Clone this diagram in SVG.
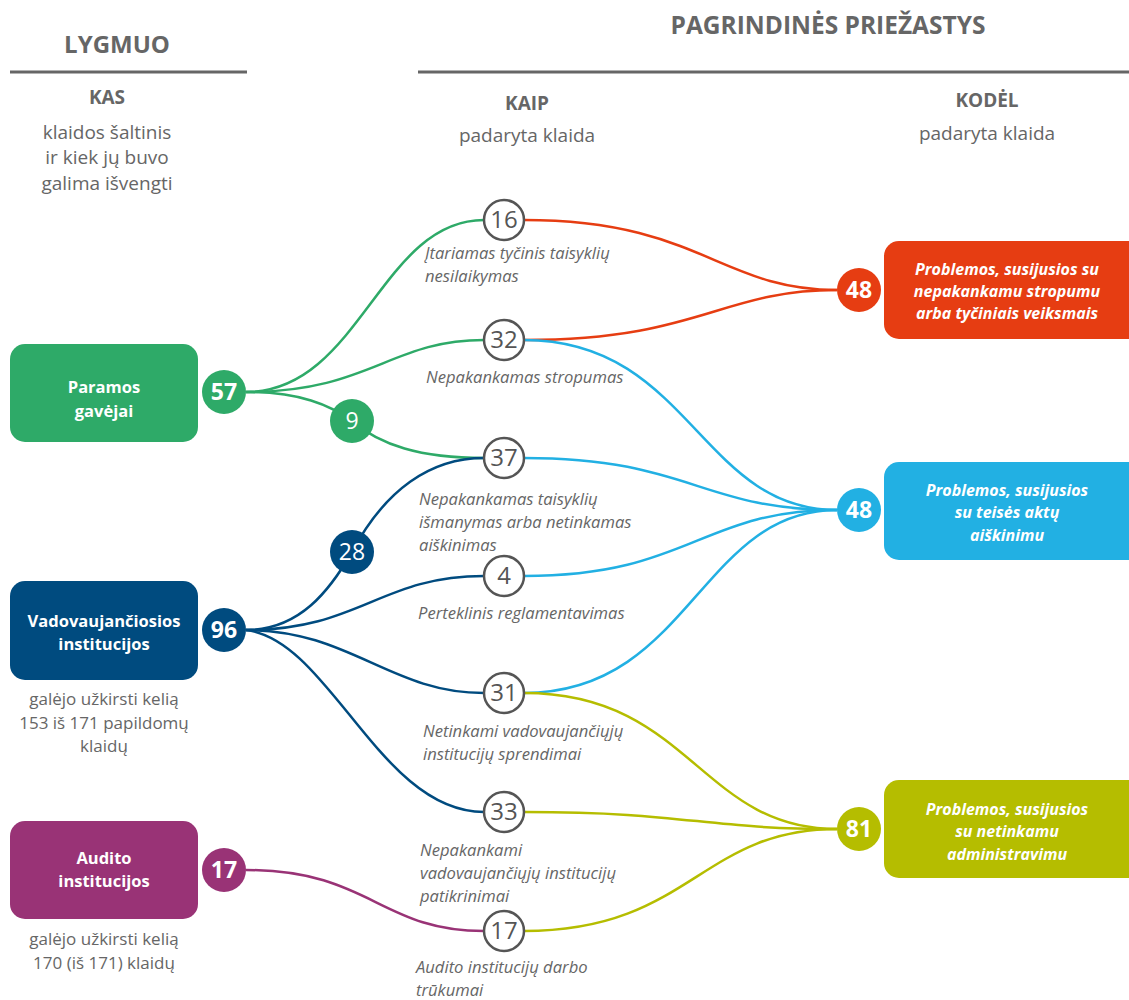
<svg xmlns="http://www.w3.org/2000/svg" width="1129" height="1000" viewBox="0 0 1129 1000">
<style>
text{font-family:"Open Sans","Noto Sans",sans-serif;}
.h{font-weight:bold;fill:#666;text-anchor:middle;}
.sub{fill:#666;font-size:19px;text-anchor:middle;}
.sub2{fill:#666;font-size:17px;text-anchor:middle;}
.lbl{fill:#666;font-size:16.6px;font-style:italic;}
.bt{fill:#fff;font-weight:bold;font-size:16.5px;text-anchor:middle;}
.bti{fill:#fff;font-weight:bold;font-style:italic;font-size:16px;text-anchor:middle;}
.num{fill:#fff;font-weight:bold;font-size:23px;text-anchor:middle;}
.numr{fill:#fff;font-size:23px;text-anchor:middle;}
.mc{fill:#fff;stroke:#555;stroke-width:2.5;}
.mn{fill:#555;font-size:24px;text-anchor:middle;}
.c{fill:none;stroke-width:2.5;}
.g{stroke:#2eaa68;}.d{stroke:#004b7f;}.p{stroke:#993376;}.r{stroke:#e63d12;}.b{stroke:#22b0e3;}.o{stroke:#b5bd00;}
</style>
<g id="header">
<text class="h" x="117" y="53" font-size="24">LYGMUO</text>
<text class="h" x="828" y="34" font-size="24.5">PAGRINDINĖS PRIEŽASTYS</text>
<line x1="10" y1="72" x2="247" y2="72" stroke="#666" stroke-width="3"/>
<line x1="418" y1="72" x2="1129" y2="72" stroke="#666" stroke-width="3"/>
<text class="h" x="107" y="104" font-size="19">KAS</text>
<text class="sub" x="107" y="139">klaidos šaltinis</text>
<text class="sub" x="107" y="164">ir kiek jų buvo</text>
<text class="sub" x="107" y="190">galima išvengti</text>
<text class="h" x="527" y="110" font-size="19">KAIP</text>
<text class="sub" x="527" y="142">padaryta klaida</text>
<text class="h" x="987" y="107" font-size="19">KODĖL</text>
<text class="sub" x="987" y="140">padaryta klaida</text>
</g>
<g id="connectors">
<path class="c g" d="M246,392 C360,392 380,220 484,220"/>
<path class="c g" d="M246,392 C370,392 390,340 484,340"/>
<path class="c g" d="M246,392 C300,392 330,405 352,421 C380,445 420,458 484,458"/>
<path class="c d" d="M246,630 C300,630 330,590 352,552 C385,490 430,458 484,458"/>
<path class="c d" d="M246,630 C360,630 380,576 484,576"/>
<path class="c d" d="M246,630 C350,630 390,693 484,693"/>
<path class="c d" d="M246,630 C330,640 380,812 484,812"/>
<path class="c p" d="M246,870 C370,870 380,931 484,931"/>
<path class="c r" d="M524,220 C700,220 720,290 837,290"/>
<path class="c r" d="M524,340 C700,340 720,290 837,290"/>
<path class="c b" d="M524,340 C690,340 700,510 837,510"/>
<path class="c b" d="M524,458 C690,458 700,510 837,510"/>
<path class="c b" d="M524,576 C690,576 700,510 837,510"/>
<path class="c b" d="M524,693 C690,693 700,510 837,510"/>
<path class="c o" d="M524,693 C690,693 700,829 837,829"/>
<path class="c o" d="M524,812 C690,812 700,829 837,829"/>
<path class="c o" d="M524,931 C690,931 700,829 837,829"/>
</g>
<g id="paramos">
<rect x="10" y="344" width="188" height="98" rx="15" fill="#2eaa68"/>
<text class="bt" x="104" y="393">Paramos</text>
<text class="bt" x="104" y="417">gavėjai</text>
<circle cx="224" cy="392" r="22" fill="#2eaa68"/>
<text class="num" x="224" y="400">57</text>
</g>
<g id="n9">
<circle cx="352" cy="421" r="22" fill="#2eaa68"/>
<text class="numr" x="352" y="429">9</text>
</g>
<g id="vadovaujancios">
<rect x="10" y="581" width="188" height="99" rx="15" fill="#004b7f"/>
<text class="bt" x="104" y="627">Vadovaujančiosios</text>
<text class="bt" x="104" y="650">institucijos</text>
<circle cx="224" cy="630" r="22" fill="#004b7f"/>
<text class="num" x="224" y="638">96</text>
<text class="sub2" x="104" y="705">galėjo užkirsti kelią</text>
<text class="sub2" x="104" y="729">153 iš 171 papildomų</text>
<text class="sub2" x="104" y="752">klaidų</text>
</g>
<g id="n28">
<circle cx="352" cy="552" r="22" fill="#004b7f"/>
<text class="numr" x="352" y="560">28</text>
</g>
<g id="audito">
<rect x="10" y="821" width="188" height="98" rx="15" fill="#993376"/>
<text class="bt" x="104" y="864">Audito</text>
<text class="bt" x="104" y="887">institucijos</text>
<circle cx="224" cy="870" r="22" fill="#993376"/>
<text class="num" x="224" y="878">17</text>
<text class="sub2" x="104" y="945">galėjo užkirsti kelią</text>
<text class="sub2" x="104" y="969">170 (iš 171) klaidų</text>
</g>
<g id="m16"><circle class="mc" cx="504" cy="220" r="20"/><text class="mn" x="504" y="228">16</text>
<text class="lbl" x="425" y="259">Įtariamas tyčinis taisyklių</text><text class="lbl" x="425" y="282">nesilaikymas</text></g>
<g id="m32"><circle class="mc" cx="504" cy="340" r="20"/><text class="mn" x="504" y="348">32</text>
<text class="lbl" x="426" y="383">Nepakankamas stropumas</text></g>
<g id="m37"><circle class="mc" cx="504" cy="458" r="20"/><text class="mn" x="504" y="466">37</text>
<text class="lbl" x="419" y="505">Nepakankamas taisyklių</text><text class="lbl" x="419" y="528">išmanymas arba netinkamas</text><text class="lbl" x="419" y="551">aiškinimas</text></g>
<g id="m4"><circle class="mc" cx="504" cy="576" r="20"/><text class="mn" x="504" y="584">4</text>
<text class="lbl" x="418" y="619">Perteklinis reglamentavimas</text></g>
<g id="m31"><circle class="mc" cx="504" cy="693" r="20"/><text class="mn" x="504" y="701">31</text>
<text class="lbl" x="423" y="737">Netinkami vadovaujančiųjų</text><text class="lbl" x="423" y="760">institucijų sprendimai</text></g>
<g id="m33"><circle class="mc" cx="504" cy="812" r="20"/><text class="mn" x="504" y="820">33</text>
<text class="lbl" x="420" y="856">Nepakankami</text><text class="lbl" x="420" y="879">vadovaujančiųjų institucijų</text><text class="lbl" x="420" y="902">patikrinimai</text></g>
<g id="m17"><circle class="mc" cx="504" cy="931" r="20"/><text class="mn" x="504" y="939">17</text>
<text class="lbl" x="416" y="973">Audito institucijų darbo</text><text class="lbl" x="416" y="996">trūkumai</text></g>
<g id="r-red">
<rect x="884" y="241" width="260" height="98" rx="15" fill="#e63d12"/>
<circle cx="859" cy="290" r="22" fill="#e63d12"/>
<text class="num" x="859" y="298">48</text>
<text class="bti" x="1007" y="275">Problemos, susijusios su</text>
<text class="bti" x="1007" y="297">nepakankamu stropumu</text>
<text class="bti" x="1007" y="319">arba tyčiniais veiksmais</text>
</g>
<g id="r-blue">
<rect x="884" y="462" width="260" height="98" rx="15" fill="#22b0e3"/>
<circle cx="859" cy="510" r="22" fill="#22b0e3"/>
<text class="num" x="859" y="518">48</text>
<text class="bti" x="1007" y="496">Problemos, susijusios</text>
<text class="bti" x="1007" y="518">su teisės aktų</text>
<text class="bti" x="1007" y="541">aiškinimu</text>
</g>
<g id="r-olive">
<rect x="884" y="780" width="260" height="98" rx="15" fill="#b5bd00"/>
<circle cx="859" cy="829" r="22" fill="#b5bd00"/>
<text class="num" x="859" y="837">81</text>
<text class="bti" x="1007" y="815">Problemos, susijusios</text>
<text class="bti" x="1007" y="837">su netinkamu</text>
<text class="bti" x="1007" y="860">administravimu</text>
</g>
</svg>
